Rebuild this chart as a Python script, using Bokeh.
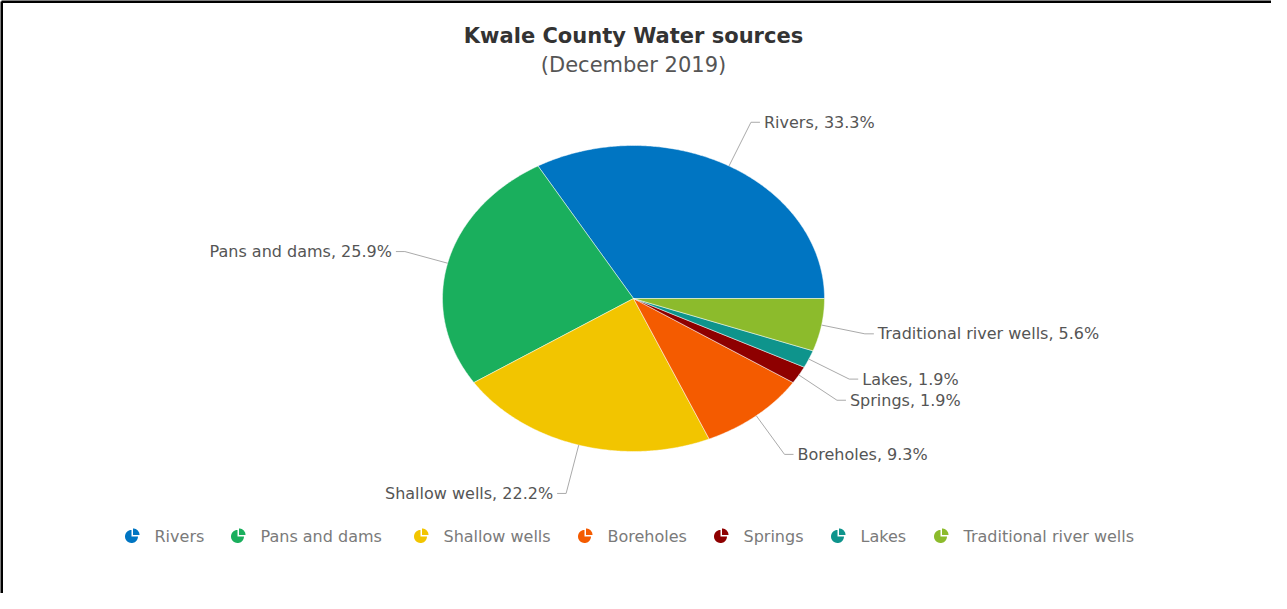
import numpy as np
from bokeh.plotting import figure
from bokeh.models import Range1d
from bokeh.embed import file_html
from bokeh.resources import INLINE
from bokeh.core.properties import value

# ---- data ----
categories = ["Rivers", "Pans and dams", "Shallow wells", "Boreholes",
              "Springs", "Lakes", "Traditional river wells"]
counts = [18, 14, 12, 5, 1, 1, 3]
colors = ["#0075c2", "#1aaf5d", "#f2c500", "#f45b00", "#8e0000", "#0e948c", "#8cbb2c"]
title_text = "Kwale County Water sources"
subtitle_text = "(December 2019)"

# ---- layout ----
W, H = 1271, 593
OX, OY = 8, 8            # page margin -> data coords == window pixels
CX, CY = 641, 306        # pie centre
RX, RY = 191, 153        # pie radii (picture is stretched horizontally)
FONT = value("DejaVu Sans")

p = figure(width=W, height=H, x_range=Range1d(OX, OX + W), y_range=Range1d(OY + H, OY),
           output_backend="svg", toolbar_location=None, min_border=0,
           x_axis_type=None, y_axis_type=None)
p.grid.visible = False
p.outline_line_color = None
p.background_fill_color = "white"

# frame border (top + left visible in the reference)
p.segment(x0=[OX + 1, OX + 1], y0=[OY + 1, OY + H], x1=[OX + W, OX + 1], y1=[OY + 1, OY + 1],
          line_color="black", line_width=3)

# ---- pie slices ----
total = float(sum(counts))
fracs = [c / total for c in counts]
starts = np.cumsum([0] + fracs[:-1]) * 360.0
ends = starts + np.array(fracs) * 360.0

xs, ys = [], []
for a0, a1 in zip(starts, ends):
    t = np.radians(np.linspace(a0, a1, max(4, int((a1 - a0) * 2))))
    xs.append([CX] + list(CX + RX * np.cos(t)) + [CX])
    ys.append([CY] + list(CY - RY * np.sin(t)) + [CY])
p.patches(xs=xs, ys=ys, fill_color=colors, line_color="white", line_width=0.8, line_alpha=0.6)

# ---- data labels with leader lines ----
lx, ly, ltxt, lal = [], [], [], []
lines_x, lines_y = [], []
for cat, f, a0, a1 in zip(categories, fracs, starts, ends):
    m = np.radians((a0 + a1) / 2)
    c, s = np.cos(m), np.sin(m)
    ex, ey = CX + RX * c, CY - RY * s
    kx, ky = CX + RX * 1.23 * c, CY - RY * 1.33 * s
    d = 1 if c >= 0 else -1
    hx = kx + d * 9
    lines_x.append([ex, kx, hx])
    lines_y.append([ey, ky, ky])
    lx.append(kx + d * 13)
    ly.append(ky)
    ltxt.append(f"{cat}, {f * 100:.1f}%")
    lal.append("left" if d > 0 else "right")
p.multi_line(xs=lines_x, ys=lines_y, line_color="#aaaaaa", line_width=1)
p.text(x=lx, y=ly, text=ltxt, text_align=lal, text_baseline="middle",
       text_font=FONT, text_font_size="16px", text_color="#555555")

# ---- title ----
p.text(x=[CX], y=[43], text=[title_text], text_align="center", text_baseline="middle",
       text_font=FONT, text_font_size="21px", text_font_style="bold", text_color="#333333")
p.text(x=[CX], y=[72], text=[subtitle_text], text_align="center", text_baseline="middle",
       text_font=FONT, text_font_size="21px", text_color="#555555")

# ---- legend (pie-shaped icons) ----
LEG_X = [139, 245, 428, 592, 728, 845, 948]
LEG_Y = 544
ir = 6.5
ix, iy = [], []
icol = []
for x0, col in zip(LEG_X, colors):
    t = np.radians(np.linspace(90, 360, 30))
    ix.append([x0] + list(x0 + ir * np.cos(t)) + [x0])
    iy.append([LEG_Y] + list(LEG_Y - ir * np.sin(t)) + [LEG_Y])
    icol.append(col)
    t = np.radians(np.linspace(0, 90, 12))
    ox, oy = x0 + 1.5, LEG_Y - 1.5
    ix.append([ox] + list(ox + ir * np.cos(t)) + [ox])
    iy.append([oy] + list(oy - ir * np.sin(t)) + [oy])
    icol.append(col)
p.patches(xs=ix, ys=iy, fill_color=icol, line_color=None)
p.text(x=[x0 + 23 for x0 in LEG_X], y=[LEG_Y] * len(LEG_X), text=categories,
       text_align="left", text_baseline="middle", text_font=FONT,
       text_font_size="16px", text_color="#7a7a7a")

open("out.html", "w").write(file_html(p, INLINE))
